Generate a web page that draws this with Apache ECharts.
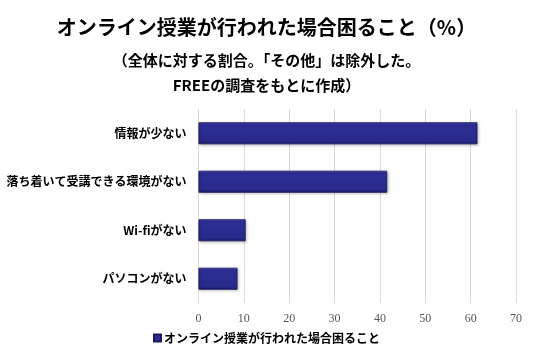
<!DOCTYPE html>
<html><head><meta charset="utf-8">
<script src="https://cdn.jsdelivr.net/npm/echarts@6/dist/echarts.min.js"></script>
<style>html,body{margin:0;padding:0;background:#fff}#c{width:533px;height:358px}</style>
</head><body><div id="c"></div>
<script>
const categories = ['情報が少ない', '落ち着いて受講できる環境がない', 'Wi-fiがない', 'パソコンがない'];
const values = [61.5, 41.6, 10.4, 8.6];
const seriesName = 'オンライン授業が行われた場合困ること';
const titleText = 'オンライン授業が行われた場合困ること（%）';
const subLine1 = '（全体に対する割合。「その他」は除外した。';
const subLine2 = 'FREEの調査をもとに作成）';

const jp = '"Noto Sans CJK JP", "Noto Sans", sans-serif';
const chart = echarts.init(document.getElementById('c'));
chart.setOption({
  backgroundColor: '#fff',
  animation: false,
  title: [
    {text: titleText, left: 'center', top: 12, textStyle: {fontFamily: jp, fontSize: 20, fontWeight: 'bold', color: '#000'}},
    {text: subLine1, left: 'center', top: 48, textStyle: {fontFamily: jp, fontSize: 15, fontWeight: 'bold', color: '#000'}},
    {text: subLine2, left: 'center', top: 73, textStyle: {fontFamily: jp, fontSize: 15, fontWeight: 'bold', color: '#000'}}
  ],
  legend: {
    bottom: 9, left: 'center',
    itemWidth: 7, itemHeight: 7, itemGap: 4,
    textStyle: {fontFamily: jp, fontSize: 12, fontWeight: 'bold', color: '#000', padding: [0,0,0,-2]},
    data: [{name: seriesName, icon: 'rect'}]
  },
  grid: {left: 198.5, right: 17, top: 109, height: 194, containLabel: false},
  xAxis: {
    type: 'value', min: 0, max: 70, interval: 10,
    axisLine: {show: false}, axisTick: {show: false},
    splitLine: {lineStyle: {color: '#d9d9d9'}},
    axisLabel: {fontFamily: '"Liberation Serif", "DejaVu Serif", serif', fontSize: 12, color: '#555', margin: 10}
  },
  yAxis: {
    type: 'category', data: categories, inverse: true,
    axisLine: {show: false}, axisTick: {show: false},
    axisLabel: {fontFamily: jp, fontSize: 12, fontWeight: 'bold', color: '#000', margin: 12}
  },
  series: [{
    name: seriesName, type: 'bar', data: values, barWidth: 22,
    itemStyle: {
      color: new echarts.graphic.LinearGradient(0, 0, 0, 1, [
        {offset: 0, color: '#4444b4'}, {offset: 0.12, color: '#2e2e96'},
        {offset: 0.85, color: '#2a2a8c'}, {offset: 1, color: '#1a1a66'}
      ]),
      borderColor: '#1a1a60', borderWidth: 0.8,
      shadowColor: 'rgba(0,0,0,0.35)', shadowBlur: 3, shadowOffsetX: 1, shadowOffsetY: 1
    }
  }]
});
</script></body></html>
